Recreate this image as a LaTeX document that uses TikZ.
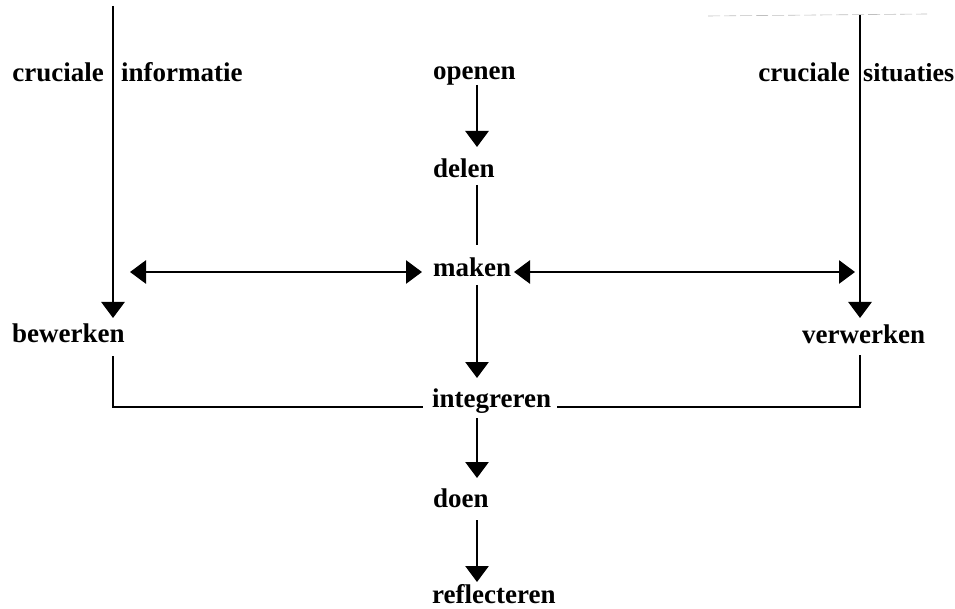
\documentclass[tikz,border=0pt]{standalone}
\usepackage{fontspec}
\setmainfont{Liberation Serif}
\usetikzlibrary{arrows.meta}
\begin{document}
\begin{tikzpicture}[x=1pt,y=-1pt,
  lbl/.style={inner sep=0pt,font=\fontsize{27}{30}\selectfont\bfseries},
  ln/.style={line width=2.8pt},
  arr/.style={ln,-{Triangle[width=23pt,length=16pt]}},
  darr/.style={ln,{Triangle[width=23pt,length=16pt]}-{Triangle[width=23pt,length=16pt]}}]
\useasboundingbox (0,0) rectangle (955,609);
% labels
\node[lbl,anchor=base east] (ci) at (104,82) {cruciale};
\node[lbl,anchor=base west] (inf) at (121,82) {informatie};
\node[lbl,anchor=base east] (cs) at (850,82) {cruciale};
\node[lbl,anchor=base west,font=\fontsize{26}{28}\selectfont\bfseries] (sit) at (863,82) {situaties};
\node[lbl,anchor=base west] (openen) at (433,80) {openen};
\node[lbl,anchor=base west] (delen) at (433,178) {delen};
\node[lbl,anchor=base west] (maken) at (433,277) {maken};
\node[lbl,anchor=base west] (bewerken) at (12,342) {bewerken};
\node[lbl,anchor=base west] (verwerken) at (802,343) {verwerken};
\node[lbl,anchor=base west] (integreren) at (432,407) {integreren};
\node[lbl,anchor=base west] (doen) at (433,507) {doen};
\node[lbl,anchor=base west] (reflecteren) at (432,603) {reflecteren};
% coordinates
\coordinate (ltop) at (113,6);
\coordinate (rtop) at (860,15);
\coordinate (ltip) at (113,318);
\coordinate (rtip) at (860,318);
\coordinate (c1) at (477,85);   \coordinate (c2) at (477,147);
\coordinate (c3) at (477,185);  \coordinate (c4) at (477,245);
\coordinate (c5) at (477,285);  \coordinate (c6) at (477,378);
\coordinate (c7) at (477,418);  \coordinate (c8) at (477,478);
\coordinate (c9) at (477,520);  \coordinate (c10) at (477,582);
\coordinate (hl1) at (130,272); \coordinate (hl2) at (422,272);
\coordinate (hr1) at (514,272); \coordinate (hr2) at (855,272);
\coordinate (lb) at (113,356);  \coordinate (li) at (423,407);
\coordinate (rb) at (860,355);  \coordinate (ri) at (557,407);
\coordinate (d1) at (708,16);   \coordinate (d2) at (927,14);
% connectors
\draw[gray!50,line width=0.6pt,dash pattern=on 12pt off 4pt] (d1) -- (d2);
\draw[arr] (ltop) -- (ltip);
\draw[arr] (rtop) -- (rtip);
\draw[arr] (c1) -- (c2);
\draw[ln] (c3) -- (c4);
\draw[arr] (c5) -- (c6);
\draw[arr] (c7) -- (c8);
\draw[arr] (c9) -- (c10);
\draw[darr] (hl1) -- (hl2);
\draw[darr] (hr1) -- (hr2);
\draw[ln] (lb) |- (li);
\draw[ln] (rb) |- (ri);
\end{tikzpicture}
\end{document}
